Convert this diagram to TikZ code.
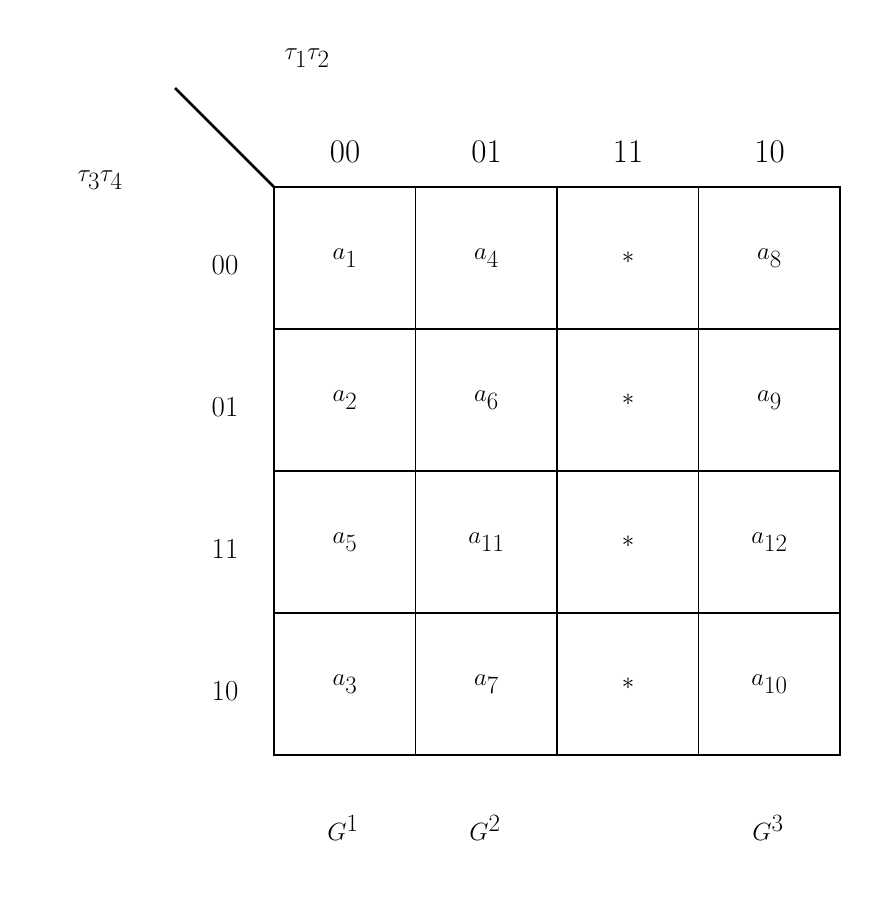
\documentclass[tikz,border=0pt]{standalone}
\begin{document}
\begin{tikzpicture}[x=1pt,y=-1pt,
 big/.style={font=\fontsize{50}{60}\selectfont},
 hdr/.style={font=\fontsize{33}{40}\selectfont},
 rhdr/.style={font=\fontsize{29}{35}\selectfont}]
\useasboundingbox (0,0) rectangle (874,903);
\foreach \i in {1,2,3} {
 \draw[line width=1.5pt] (274+141.5*\i,187) -- (274+141.5*\i,755);
 \draw[line width=1.5pt] (274,187+142*\i) -- (840,187+142*\i);
}
\draw[line width=2.5pt] (274,187) rectangle (840,755);
\coordinate (c) at (274,187);
\coordinate (d) at (175,88);
\draw[line width=2.5pt] (c) -- (d);
\node[big] (t12) at (307,58) {$\tau_1\tau_2$};
\node[big] (t34) at (100,180) {$\tau_3\tau_4$};
\foreach \t [count=\i from 0] in {00,01,11,10} {
 \node[hdr] (h\i) at (345+141.5*\i,152) {\t};
 \node[rhdr] (r\i) at (225,265+142*\i) {\t};
}
\foreach \t [count=\k from 0] in {a_1,a_4,*,a_8,a_2,a_6,*,a_9,a_5,a_{11},*,a_{12},a_3,a_7,*,a_{10}} {
 \pgfmathtruncatemacro{\r}{int(\k/4)}
 \pgfmathtruncatemacro{\c}{mod(\k,4)}
 \node[big] (m\k) at (345+141.5*\c,258+142*\r) {$\t$};
}
\node[big] (g1) at (343,828) {$G^1$};
\node[big] (g2) at (485,828) {$G^2$};
\node[big] (g3) at (768,828) {$G^3$};
\end{tikzpicture}
\end{document}
